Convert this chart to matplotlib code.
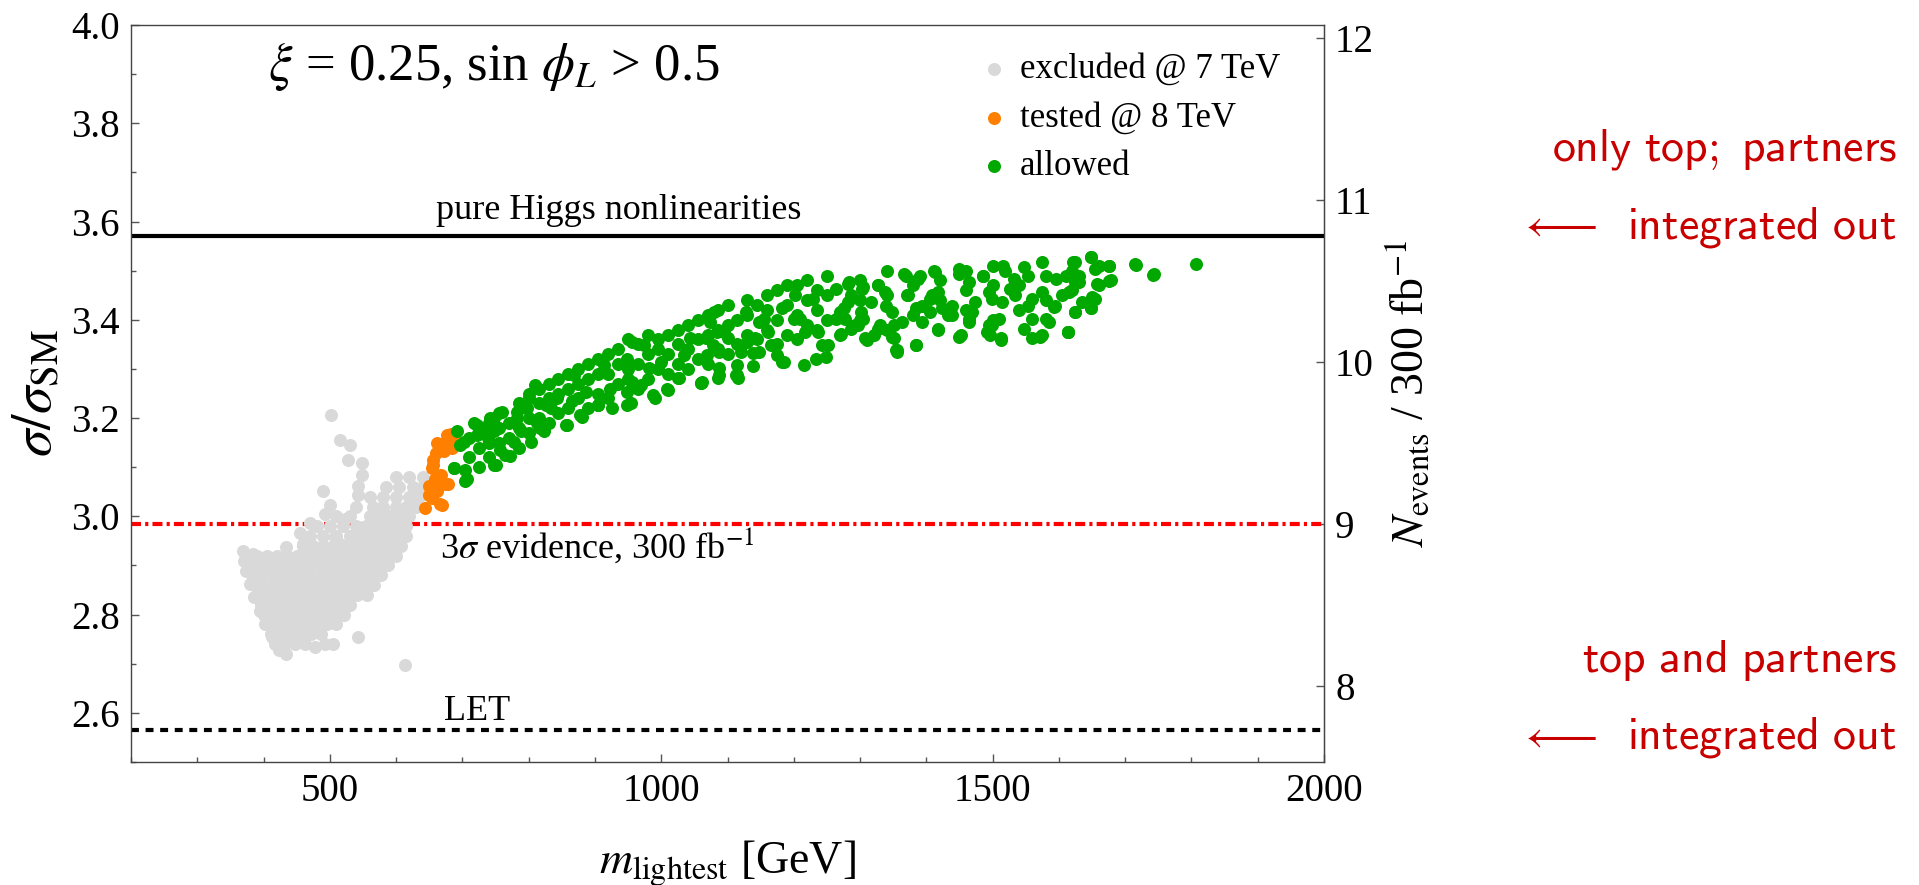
import matplotlib
matplotlib.use("Agg")
import matplotlib.pyplot as plt
from matplotlib.ticker import MultipleLocator, FixedLocator, FormatStrFormatter

plt.rcParams["font.family"] = ["Liberation Serif", "DejaVu Serif"]
plt.rcParams["mathtext.fontset"] = "stix"

# ---- scan points: lightest partner mass [GeV] vs sigma/sigma_SM ----
# excluded @ 7 TeV : outlying points
excluded_mass = [502, 515, 530, 528, 548, 548, 543, 543, 489, 500, 492, 523, 470, 455, 460,
                 434, 508, 515, 369, 371, 374, 379, 386, 394, 402, 412, 424, 434, 384, 404,
                 427, 457, 477, 543, 613, 505, 492, 477, 432, 457]
excluded_ratio = [3.206, 3.156, 3.146, 3.115, 3.109, 3.085, 3.061, 3.044, 3.051, 3.024, 3.004,
                  2.994, 2.987, 2.967, 2.943, 2.937, 2.957, 2.943, 2.930, 2.909, 2.889, 2.862,
                  2.835, 2.808, 2.781, 2.754, 2.727, 2.720, 2.923, 2.913, 2.903, 2.906, 2.916,
                  2.754, 2.697, 2.741, 2.741, 2.734, 2.747, 2.754]
# excluded @ 7 TeV : dense core of the scan
excluded_core_mass = [
    375, 390, 405, 420, 435, 450, 465, 480, 495, 510, 525, 540, 555, 570, 585, 600,
    378, 393, 408, 423, 438, 453, 468, 483, 498, 513, 528, 543, 558, 573, 588,
    382, 397, 412, 427, 442, 457, 472, 487, 502, 517, 532, 547, 562, 577,
    386, 401, 416, 431, 446, 461, 476, 491, 506, 521, 536, 551, 566,
    391, 406, 421, 436, 451, 466, 481, 496, 511, 526, 541, 556,
    396, 411, 426, 441, 456, 471, 486, 501, 516, 531,
    401, 416, 431, 446, 461, 476, 491, 506, 521,
    405, 420, 435, 450, 465, 480, 495, 510,
    411, 426, 441, 456, 471, 486,
    418, 433, 448, 463,
    460, 475, 490, 505, 520, 535, 550, 565, 580, 595, 608,
    470, 490, 510, 530, 545, 560, 575, 590, 605, 615,
    480, 500, 520, 540, 555, 570, 585, 600, 615,
    510, 530, 560, 575, 590, 605, 620,
    540, 565, 580, 600, 615, 630,
    560, 580, 600, 620, 635,
    585, 605, 625, 640,
    600, 620, 640]
excluded_core_ratio = [
    2.92, 2.92, 2.92, 2.92, 2.92, 2.92, 2.92, 2.92, 2.92, 2.92, 2.92, 2.92, 2.92, 2.92, 2.92, 2.92,
    2.90, 2.90, 2.90, 2.90, 2.90, 2.90, 2.90, 2.90, 2.90, 2.90, 2.90, 2.90, 2.90, 2.90, 2.90,
    2.88, 2.88, 2.88, 2.88, 2.88, 2.88, 2.88, 2.88, 2.88, 2.88, 2.88, 2.88, 2.88, 2.88,
    2.86, 2.86, 2.86, 2.86, 2.86, 2.86, 2.86, 2.86, 2.86, 2.86, 2.86, 2.86, 2.86,
    2.84, 2.84, 2.84, 2.84, 2.84, 2.84, 2.84, 2.84, 2.84, 2.84, 2.84, 2.84,
    2.82, 2.82, 2.82, 2.82, 2.82, 2.82, 2.82, 2.82, 2.82, 2.82,
    2.80, 2.80, 2.80, 2.80, 2.80, 2.80, 2.80, 2.80, 2.80,
    2.78, 2.78, 2.78, 2.78, 2.78, 2.78, 2.78, 2.78,
    2.76, 2.76, 2.76, 2.76, 2.76, 2.76,
    2.74, 2.74, 2.74, 2.74,
    2.94, 2.94, 2.94, 2.94, 2.94, 2.94, 2.94, 2.94, 2.94, 2.94, 2.94,
    2.96, 2.96, 2.96, 2.96, 2.96, 2.96, 2.96, 2.96, 2.96, 2.96,
    2.98, 2.98, 2.98, 2.98, 2.98, 2.98, 2.98, 2.98, 2.98,
    3.00, 3.00, 3.00, 3.00, 3.00, 3.00, 3.00,
    3.02, 3.02, 3.02, 3.02, 3.02, 3.02,
    3.04, 3.04, 3.04, 3.04, 3.04,
    3.06, 3.06, 3.06, 3.06,
    3.08, 3.08, 3.08]

tested_mass = [644, 666, 649, 649, 659, 654, 656, 669, 677, 674, 677, 662, 672, 684, 656,
               667, 679, 662, 669, 654, 683, 660, 688]
tested_ratio = [3.017, 3.026, 3.044, 3.061, 3.075, 3.098, 3.115, 3.139, 3.156, 3.065, 3.166,
                3.149, 3.132, 3.139, 3.105, 3.085, 3.065, 3.051, 3.024, 3.038, 3.168, 3.128,
                3.160]

allowed_mass = [
    687, 704, 707, 692, 702, 717, 732, 750, 772, 757, 747, 760, 783, 788, 803, 823, 813, 798,
    833, 858, 881, 866, 904, 926, 954, 778, 742, 722,
    987, 1010, 1060, 1027, 1085, 1116, 949, 969,
    696, 704, 687, 722, 748, 739, 765, 748, 783, 809, 800, 826, 817, 856, 843, 878, 869, 904,
    922, 913, 948, 948, 974, 991, 1008, 1000, 1026, 1043, 1061, 1087, 1069, 1095, 1113, 1121,
    1130, 1148, 1165, 1182, 1200, 1217, 1234, 1252, 1269, 1287, 1304, 1321, 1356, 1339, 956,
    887, 982, 1035, 1078, 956,
    1060, 1087, 1114, 1138, 1084, 1080, 1101, 1128, 1148, 1161, 1185, 1182, 1202, 1209, 1215,
    1229, 1242, 1249, 1263, 1276, 1270, 1283, 1303, 1297, 1310, 1327, 1330, 1351, 1354, 1367,
    1371, 1391, 1384, 1411, 1405, 1418, 1432, 1449, 1452, 1465, 1465, 1486, 1492, 1513, 1516,
    1526, 1547, 1560, 1574, 1580, 1594, 1574, 1614, 1621, 1631, 1648, 1655, 1675, 1678, 1648,
    1715, 1743, 1807, 1114, 1138, 1175, 1141, 1087, 1067, 1074, 1155, 1236, 1263, 1351, 1384,
    1418, 1438, 1499, 1533, 1499, 1547, 1560,
    1272, 1307, 1348, 1355, 1385, 1418, 1449, 1496, 1512, 1572, 1585, 1592, 1613, 1625, 1282,
    1305, 1327, 1370, 1388, 1413, 1449, 1486, 1519, 1554, 1595, 1625, 1282, 1302, 1317, 1338,
    1348, 1363, 1373, 1393, 1408, 1423, 1438, 1469, 1474, 1494, 1514, 1509, 1534, 1554, 1560,
    1575, 1605, 1277, 1292, 1327, 1393, 1406, 1464, 1494, 1287,
    1625, 1648, 1676, 1716, 1742, 1610, 1630, 1655, 1676, 1658, 1615, 1650, 1625, 1648, 1613,
    1635,
    710, 710, 725, 725, 725, 740, 740, 740, 755, 755, 755, 770, 770, 785, 785, 785,
    800, 800, 800, 815, 815, 815, 830, 830, 830, 845, 845, 845, 860, 860, 860,
    875, 875, 875, 890, 890, 890, 905, 905, 905, 920, 920, 920, 935, 935, 935,
    950, 950, 950, 965, 965, 965, 980, 980, 980, 995, 995, 995, 1010, 1010, 1010,
    1025, 1025, 1025, 1040, 1040, 1040, 1055, 1055, 1055, 1070, 1070, 1070,
    1085, 1085, 1085, 1100, 1100, 1100, 1115, 1115, 1130, 1130, 1130, 1145, 1145,
    1160, 1160, 1160, 1175, 1175, 1175, 1190, 1190, 1190, 1205, 1205, 1205,
    1220, 1220, 1220, 1235, 1235, 1235, 1250, 1250, 1250,
    1300, 1300, 1300, 1340, 1340, 1340, 1380, 1380, 1420, 1420, 1460, 1460, 1460,
    1500, 1500, 1500, 1540, 1540, 1580, 1580, 1620, 1620, 1660, 1660]
allowed_ratio = [
    3.098, 3.095, 3.075, 3.173, 3.152, 3.190, 3.173, 3.105, 3.122, 3.136, 3.173, 3.213, 3.200,
    3.173, 3.152, 3.173, 3.190, 3.220, 3.220, 3.186, 3.203, 3.234, 3.227, 3.220, 3.230, 3.152,
    3.200, 3.166,
    3.247, 3.257, 3.271, 3.281, 3.281, 3.281, 3.254, 3.267,
    3.146, 3.072, 3.099, 3.186, 3.200, 3.159, 3.125, 3.105, 3.213, 3.267, 3.240, 3.227, 3.179,
    3.186, 3.240, 3.206, 3.287, 3.227, 3.260, 3.308, 3.227, 3.321, 3.348, 3.240, 3.260, 3.314,
    3.281, 3.362, 3.274, 3.301, 3.328, 3.375, 3.287, 3.335, 3.355, 3.396, 3.348, 3.314, 3.402,
    3.375, 3.321, 3.348, 3.416, 3.382, 3.402, 3.369, 3.335, 3.429, 3.274, 3.254, 3.301, 3.328,
    3.348, 3.355,
    3.271, 3.288, 3.288, 3.305, 3.375, 3.416, 3.362, 3.416, 3.335, 3.375, 3.315, 3.423, 3.450,
    3.402, 3.308, 3.443, 3.348, 3.325, 3.463, 3.423, 3.369, 3.477, 3.463, 3.389, 3.359, 3.470,
    3.389, 3.362, 3.338, 3.494, 3.450, 3.490, 3.348, 3.500, 3.443, 3.382, 3.409, 3.504, 3.369,
    3.477, 3.402, 3.490, 3.375, 3.362, 3.510, 3.463, 3.507, 3.443, 3.517, 3.402, 3.429, 3.369,
    3.375, 3.517, 3.477, 3.527, 3.443, 3.510, 3.480, 3.423, 3.514, 3.494, 3.514, 3.308, 3.332,
    3.328, 3.362, 3.335, 3.362, 3.396, 3.402, 3.375, 3.402, 3.389, 3.423, 3.456, 3.429, 3.443,
    3.483, 3.389, 3.382, 3.362,
    3.372, 3.362, 3.365, 3.338, 3.348, 3.379, 3.365, 3.369, 3.359, 3.365, 3.396, 3.426, 3.375,
    3.416, 3.473, 3.466, 3.470, 3.490, 3.483, 3.497, 3.494, 3.490, 3.500, 3.490, 3.483, 3.477,
    3.436, 3.416, 3.436, 3.456, 3.416, 3.396, 3.450, 3.429, 3.450, 3.423, 3.409, 3.416, 3.436,
    3.456, 3.436, 3.402, 3.450, 3.429, 3.402, 3.456, 3.450, 3.402, 3.389, 3.382, 3.396, 3.416,
    3.396, 3.389, 3.450,
    3.517, 3.527, 3.510, 3.512, 3.492, 3.490, 3.490, 3.504, 3.478, 3.473, 3.456, 3.446, 3.416,
    3.423, 3.375, 3.436,
    3.12, 3.16, 3.10, 3.14, 3.18, 3.12, 3.15, 3.19, 3.15, 3.18, 3.21, 3.16, 3.19, 3.14, 3.18, 3.23,
    3.17, 3.20, 3.25, 3.20, 3.23, 3.26, 3.19, 3.24, 3.27, 3.21, 3.25, 3.28, 3.22, 3.26, 3.29,
    3.24, 3.27, 3.30, 3.22, 3.28, 3.31, 3.25, 3.29, 3.32, 3.24, 3.29, 3.33, 3.27, 3.31, 3.34,
    3.28, 3.30, 3.36, 3.26, 3.31, 3.35, 3.28, 3.33, 3.37, 3.30, 3.34, 3.36, 3.29, 3.33, 3.37,
    3.31, 3.35, 3.38, 3.30, 3.34, 3.39, 3.32, 3.36, 3.40, 3.31, 3.37, 3.41,
    3.34, 3.38, 3.42, 3.33, 3.39, 3.43, 3.35, 3.40, 3.37, 3.41, 3.44, 3.36, 3.43,
    3.38, 3.42, 3.45, 3.35, 3.40, 3.46, 3.37, 3.43, 3.47, 3.36, 3.41, 3.47,
    3.39, 3.44, 3.48, 3.38, 3.42, 3.46, 3.40, 3.45, 3.49,
    3.40, 3.44, 3.48, 3.38, 3.45, 3.50, 3.41, 3.47, 3.44, 3.48, 3.42, 3.46, 3.50,
    3.40, 3.47, 3.51, 3.42, 3.47, 3.44, 3.49, 3.46, 3.50, 3.47, 3.51]

# reference levels
pure_higgs_level = 3.57
evidence_level = 2.9848
let_level = 2.565


# conversion sigma/sigma_SM -> N_events at 300 fb^-1
def to_events(r):
    return 9.0 + (r - evidence_level) * 3.034


def to_ratio(n):
    return evidence_level + (n - 9.0) / 3.034


c_excl = "#D9D9D9"
c_test = "#FF8000"
c_allow = "#00A800"
c_red = "#C80000"

W, H = 1919, 885
fig = plt.figure(figsize=(W / 100, H / 100), dpi=100)
ax = fig.add_axes([131 / W, 1 - 762 / H, (1324 - 131) / W, (762 - 25) / H])

ms = 88
ax.scatter(excluded_core_mass, excluded_core_ratio, s=ms, color=c_excl, lw=0, zorder=3)
ax.scatter(excluded_mass, excluded_ratio, s=ms, color=c_excl, lw=0, label="excluded @ 7 TeV", zorder=3)
ax.scatter(tested_mass, tested_ratio, s=ms, color=c_test, lw=0, label="tested @ 8 TeV", zorder=4)
ax.scatter(allowed_mass, allowed_ratio, s=ms, color=c_allow, lw=0, label="allowed", zorder=5)

ax.axhline(pure_higgs_level, color="black", lw=3, zorder=2)
ax.axhline(evidence_level, color="#FF0000", lw=3, linestyle=(0, (2.4, 1.0, 0.75, 1.0)), zorder=2)
ax.axhline(let_level, color="black", lw=3, linestyle=(0, (1.9, 1.6)), zorder=2)

ax.set_xlim(200, 2000)
ax.set_ylim(2.5, 4.0)
ax.xaxis.set_major_locator(FixedLocator([500, 1000, 1500, 2000]))
ax.xaxis.set_minor_locator(MultipleLocator(100))
ax.yaxis.set_major_locator(MultipleLocator(0.2))
ax.yaxis.set_minor_locator(MultipleLocator(0.1))
ax.yaxis.set_major_formatter(FormatStrFormatter("%.1f"))
ax.tick_params(which="both", direction="in", top=False, right=False, labelsize=28, pad=8)
ax.tick_params(which="major", length=6, width=1, color="#555555")
ax.tick_params(which="minor", length=3.5, width=1, color="#555555")
for s in ax.spines.values():
    s.set_color("#444444")
    s.set_linewidth(1)

ax.set_xlabel(r"$m_{\rm lightest}$ [GeV]", fontsize=33, labelpad=20)
ax.set_ylabel(r"$\sigma/\sigma_{\rm SM}$", fontsize=40, labelpad=6)

sec = ax.secondary_yaxis("right", functions=(to_events, to_ratio))
sec.yaxis.set_major_locator(FixedLocator([8, 9, 10, 11, 12]))
sec.tick_params(direction="in", labelsize=28, length=6, width=1, color="#555555", pad=8)
sec.spines["right"].set_color("#444444")
sec.set_ylabel(r"$N_{\rm events}$ / 300 fb$^{-1}$", fontsize=33, labelpad=8)

ax.text(406, 3.889, r"$\xi$ = 0.25, sin $\phi_L$ > 0.5", fontsize=38, ha="left", va="baseline")
ax.text(660, 3.605, "pure Higgs nonlinearities", fontsize=26, ha="left", va="baseline")
ax.text(666, 2.916, r"3$\sigma$ evidence, 300 fb$^{-1}$", fontsize=26, ha="left", va="baseline")
ax.text(672, 2.586, "LET", fontsize=26, ha="left", va="baseline")

ax.legend(loc="upper left", bbox_to_anchor=(0.716, 0.962), frameon=False, borderpad=0,
          borderaxespad=0, handlelength=0.5, handletextpad=0.5, labelspacing=0.45,
          fontsize=25, scatterpoints=1)


# annotations on the right margin
def side(x_px, y_px, s):
    fig.text(x_px / W, 1 - y_px / H, s, color=c_red, fontsize=33, ha="right",
             va="baseline", math_fontfamily="cm")


side(1897, 161, r"$\mathsf{only\ top;\ partners}$")
side(1897, 238, r"$\mathsf{integrated\ out}$")
side(1597, 238, r"$\longleftarrow$")
side(1897, 672, r"$\mathsf{top\ and\ partners}$")
side(1897, 749, r"$\mathsf{integrated\ out}$")
side(1597, 749, r"$\longleftarrow$")

fig.savefig("out.png", dpi=100)
